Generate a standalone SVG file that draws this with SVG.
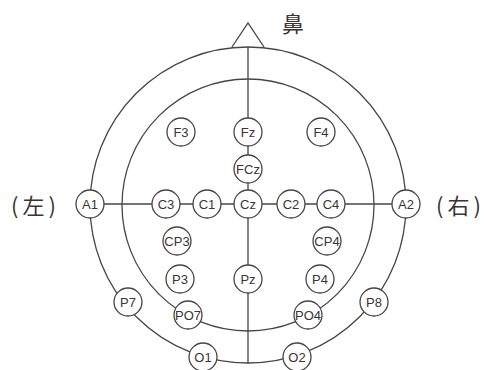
<svg xmlns="http://www.w3.org/2000/svg" width="486" height="370" viewBox="0 0 486 370">
<style>
.ln{fill:none;stroke:#4a4444;stroke-width:1.3}
.nd circle{fill:#fff;stroke:#4a4444;stroke-width:1.3}
.nd text{font-family:"Liberation Sans",Arial,sans-serif;font-size:13px;fill:#3a3434;text-anchor:middle;dominant-baseline:central}
.lb{font-family:"Noto Sans CJK SC","Noto Sans CJK JP",sans-serif;font-size:22px;fill:#3a3434;dominant-baseline:central}
.pl{letter-spacing:4px}
</style>
<rect width="486" height="370" fill="#fff"/>
<g id="connectors">
<circle class="ln" cx="248" cy="205" r="158"/>
<circle class="ln" cx="248" cy="205" r="126"/>
<line class="ln" x1="248" y1="47" x2="248" y2="363"/>
<line class="ln" x1="90" y1="204" x2="406" y2="204"/>
<polyline class="ln" points="232,47 248,23 264,47"/>
</g>
<text class="lb" x="282" y="22">鼻</text>
<text class="lb pl" x="11" y="204">(左)</text>
<text class="lb pl" x="436" y="204">(右)</text>
<g id="F3" class="nd"><circle cx="181" cy="132" r="14"/><text x="181" y="132">F3</text></g>
<g id="Fz" class="nd"><circle cx="248" cy="132" r="14"/><text x="248" y="132">Fz</text></g>
<g id="F4" class="nd"><circle cx="321" cy="132" r="14"/><text x="321" y="132">F4</text></g>
<g id="FCz" class="nd"><circle cx="248" cy="169" r="14"/><text x="248" y="169">FCz</text></g>
<g id="A1" class="nd"><circle cx="90" cy="204" r="14"/><text x="90" y="204">A1</text></g>
<g id="C3" class="nd"><circle cx="166" cy="204" r="14"/><text x="166" y="204">C3</text></g>
<g id="C1" class="nd"><circle cx="207" cy="204" r="14"/><text x="207" y="204">C1</text></g>
<g id="Cz" class="nd"><circle cx="248" cy="204" r="14"/><text x="248" y="204">Cz</text></g>
<g id="C2" class="nd"><circle cx="291" cy="204" r="14"/><text x="291" y="204">C2</text></g>
<g id="C4" class="nd"><circle cx="331" cy="204" r="14"/><text x="331" y="204">C4</text></g>
<g id="A2" class="nd"><circle cx="406" cy="204" r="14"/><text x="406" y="204">A2</text></g>
<g id="CP3" class="nd"><circle cx="177" cy="241" r="14"/><text x="177" y="241">CP3</text></g>
<g id="CP4" class="nd"><circle cx="327" cy="241" r="14"/><text x="327" y="241">CP4</text></g>
<g id="P3" class="nd"><circle cx="180" cy="279" r="14"/><text x="180" y="279">P3</text></g>
<g id="Pz" class="nd"><circle cx="248" cy="279" r="14"/><text x="248" y="279">Pz</text></g>
<g id="P4" class="nd"><circle cx="320" cy="279" r="14"/><text x="320" y="279">P4</text></g>
<g id="P7" class="nd"><circle cx="128" cy="302" r="14"/><text x="128" y="302">P7</text></g>
<g id="P8" class="nd"><circle cx="374" cy="302" r="14"/><text x="374" y="302">P8</text></g>
<g id="PO7" class="nd"><circle cx="188" cy="315" r="14"/><text x="188" y="315">PO7</text></g>
<g id="PO4" class="nd"><circle cx="308" cy="315" r="14"/><text x="308" y="315">PO4</text></g>
<g id="O1" class="nd"><circle cx="203" cy="357" r="14"/><text x="203" y="357">O1</text></g>
<g id="O2" class="nd"><circle cx="297" cy="357" r="14"/><text x="297" y="357">O2</text></g>
</svg>
